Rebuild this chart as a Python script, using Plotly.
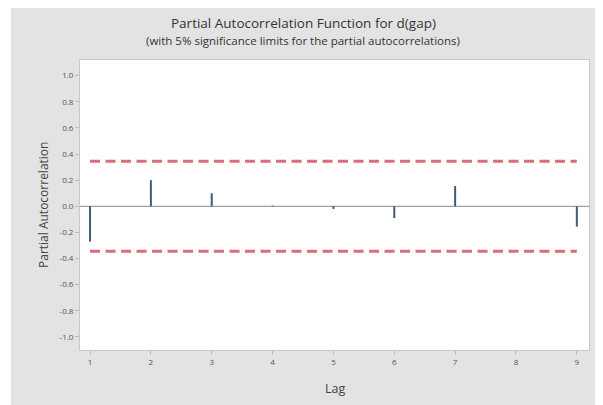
import plotly.graph_objects as go

lags = [1, 2, 3, 4, 5, 6, 7, 8, 9]
pacf = [-0.27, 0.20, 0.10, 0.005, -0.02, -0.09, 0.155, 0.0, -0.155]
sig_limit = 0.345
y_ticks = [1.0, 0.8, 0.6, 0.4, 0.2, 0.0, -0.2, -0.4, -0.6, -0.8, -1.0]
y_tick_labels = ["1.0", "0.8", "0.6", "0.4", "0.2", "0.0", "-0.2", "-0.4", "-0.6", "-0.8", "-1.0"]

xs, ys = [], []
for l, v in zip(lags, pacf):
    xs += [l, l, None]
    ys += [0, v, None]

# page has an 8px body margin, figure starts at (8, 8)
W, H = 590, 397
L, R, T, B = 72, 9, 52, 55
PW, PH = W - L - R, H - T - B
title_x = (303 - 8 - L) / PW

fig = go.Figure()
fig.add_trace(go.Scatter(x=[0.5, 9.5], y=[0, 0], mode="lines",
                         line=dict(color="#8a8a8a", width=1), hoverinfo="skip"))
fig.add_trace(go.Scatter(x=[lags[0], lags[-1]], y=[sig_limit, sig_limit], mode="lines",
                         line=dict(color="#de6b7a", width=3, dash="10px,5.5px")))
fig.add_trace(go.Scatter(x=[lags[0], lags[-1]], y=[-sig_limit, -sig_limit], mode="lines",
                         line=dict(color="#de6b7a", width=3, dash="10px,5.5px")))
fig.add_trace(go.Scatter(x=xs, y=ys, mode="lines",
                         line=dict(color="#3e5b7c", width=2)))

fig.update_layout(
    width=W, height=H,
    paper_bgcolor="#e3e3e3", plot_bgcolor="white",
    margin=dict(l=L, r=R, t=T, b=B, autoexpand=False),
    showlegend=False,
    font=dict(family="Open Sans, sans-serif", color="#555"),
    shapes=[
        dict(type="rect", xref="paper", yref="paper", x0=-L/PW, x1=-(L-3)/PW, y0=-0.3, y1=1.3,
             fillcolor="white", line=dict(width=0), layer="below"),
    ],
    annotations=[
        dict(text="Partial Autocorrelation Function for d(gap)", x=title_x, y=1 + 37/PH,
             xref="paper", yref="paper", showarrow=False, yanchor="middle",
             font=dict(size=13.5, color="#333")),
        dict(text="(with 5% significance limits for the partial autocorrelations)", x=title_x, y=1 + 19/PH,
             xref="paper", yref="paper", showarrow=False, yanchor="middle",
             font=dict(size=11.5, color="#333")),
        dict(text="Lag", x=0.5, y=-38/PH, xref="paper", yref="paper",
             showarrow=False, yanchor="middle", font=dict(size=12.5, color="#444")),
        dict(text="Partial Autocorrelation", x=-37/PW, y=0.5, xref="paper", yref="paper",
             showarrow=False, xanchor="center", yanchor="middle", textangle=-90,
             font=dict(size=12, color="#444")),
    ],
)
fig.update_xaxes(range=[0.835, 9.2], tickvals=lags, ticktext=[str(l) for l in lags],
                 showgrid=False, zeroline=False, showline=True, mirror=True, automargin=False,
                 linecolor="#c8c8c8", ticks="outside", ticklen=4, tickcolor="#bbb",
                 tickfont=dict(size=8, color="#555"))
fig.update_yaxes(range=[-1.1, 1.12], tickvals=y_ticks, ticktext=y_tick_labels,
                 showgrid=False, zeroline=False, showline=True, mirror=True, automargin=False,
                 linecolor="#c8c8c8", ticks="outside", ticklen=4, tickcolor="#bbb",
                 tickfont=dict(size=8, color="#555"))

fig.write_html("out.html")
